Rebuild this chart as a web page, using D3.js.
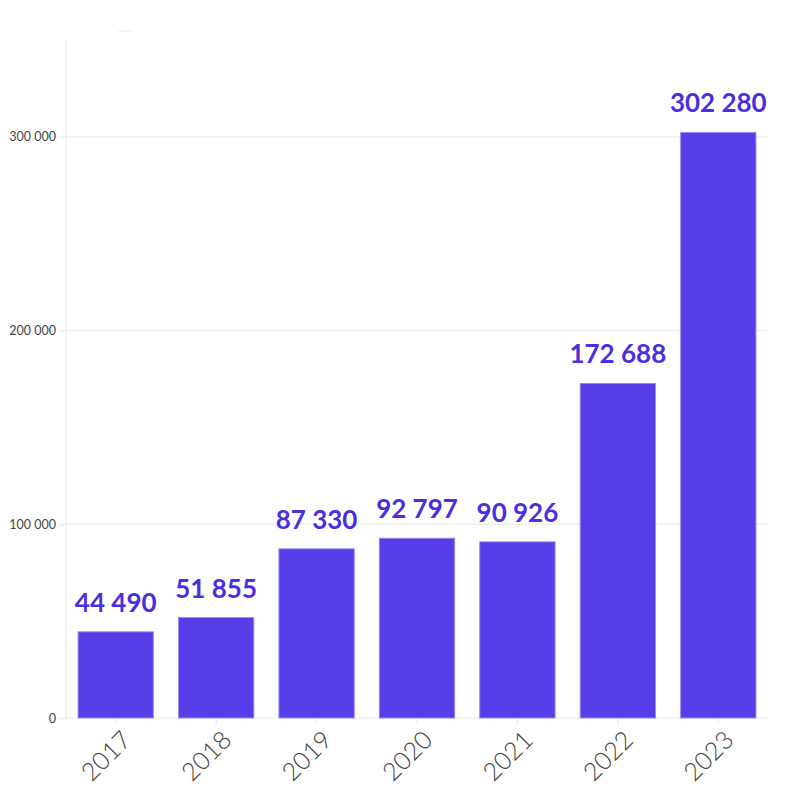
<!DOCTYPE html>
<html><head><meta charset="utf-8">
<script src="https://cdn.jsdelivr.net/npm/d3@7"></script>
<style>body{margin:0;background:#fff}svg{display:block}</style>
</head><body>
<script>
const years = ["2017","2018","2019","2020","2021","2022","2023"];
const values = [44490, 51855, 87330, 92797, 90926, 172688, 302280];
const yTicks = [0, 100000, 200000, 300000];

const W = 800, H = 800;
const m = {left: 66, right: 32, top: 40, bottom: 82};
const svg = d3.select("body").append("svg").attr("width", W).attr("height", H);
const fmt = v => d3.format(",")(v).replace(/,/g, " ");

const x = d3.scaleBand().domain(years).range([m.left, W - m.right]).paddingInner(0.25).paddingOuter(0.12);
const y = d3.scaleLinear().domain([0, 350000]).range([H - m.bottom, m.top]);

// gridlines
svg.append("g").selectAll("line").data(yTicks).join("line")
  .attr("x1", m.left).attr("x2", W - m.right)
  .attr("y1", d => y(d)).attr("y2", d => y(d))
  .attr("stroke", "#f0f0f0").attr("stroke-width", 1.5);
// vertical axis line
svg.append("line").attr("x1", m.left).attr("x2", m.left).attr("y1", m.top).attr("y2", H - m.bottom)
  .attr("stroke", "#f0f0f0").attr("stroke-width", 1.5);
// small mark top
svg.append("line").attr("x1", 118).attr("x2", 132).attr("y1", 31).attr("y2", 31)
  .attr("stroke", "#eeeeee").attr("stroke-width", 1);

// y axis
const ya = svg.append("g").attr("transform", `translate(${m.left},0)`)
  .call(d3.axisLeft(y).tickValues(yTicks).tickFormat(fmt).tickSize(7).tickPadding(3));
ya.select(".domain").remove();
ya.selectAll(".tick line").attr("stroke", "#eeeeee").attr("stroke-width", 1.5);
ya.selectAll("text").attr("fill", "#444").style("font-family", "Lato, sans-serif").style("font-size", "12.5px");

// x axis
const xa = svg.append("g").attr("transform", `translate(0,${H - m.bottom})`)
  .call(d3.axisBottom(x).tickSize(6).tickPadding(6));
xa.select(".domain").remove();
xa.selectAll(".tick line").attr("stroke", "#eeeeee").attr("stroke-width", 1.5);
xa.selectAll("text").attr("fill", "#444")
  .style("font-family", "Lato, sans-serif").style("font-size", "25px").style("font-weight", 300)
  .attr("text-anchor", "end").attr("dy", "0.55em").attr("dx", "0.1em")
  .attr("transform", "translate(-3,7) rotate(-45)");

// bars
svg.append("g").selectAll("rect").data(values).join("rect")
  .attr("x", (d, i) => x(years[i])).attr("width", x.bandwidth())
  .attr("y", d => y(d)).attr("height", d => y(0) - y(d))
  .attr("fill", "#553de8").attr("stroke", "#9a8cf0").attr("stroke-width", 1);

// labels
svg.append("g").selectAll("text").data(values).join("text")
  .attr("x", (d, i) => x(years[i]) + x.bandwidth() / 2)
  .attr("y", d => y(d) - 20)
  .attr("text-anchor", "middle")
  .attr("fill", "#4a2fe0")
  .style("font-family", "Lato, sans-serif").style("font-size", "26px").style("font-weight", 700)
  .text(fmt);
</script>
</body></html>
